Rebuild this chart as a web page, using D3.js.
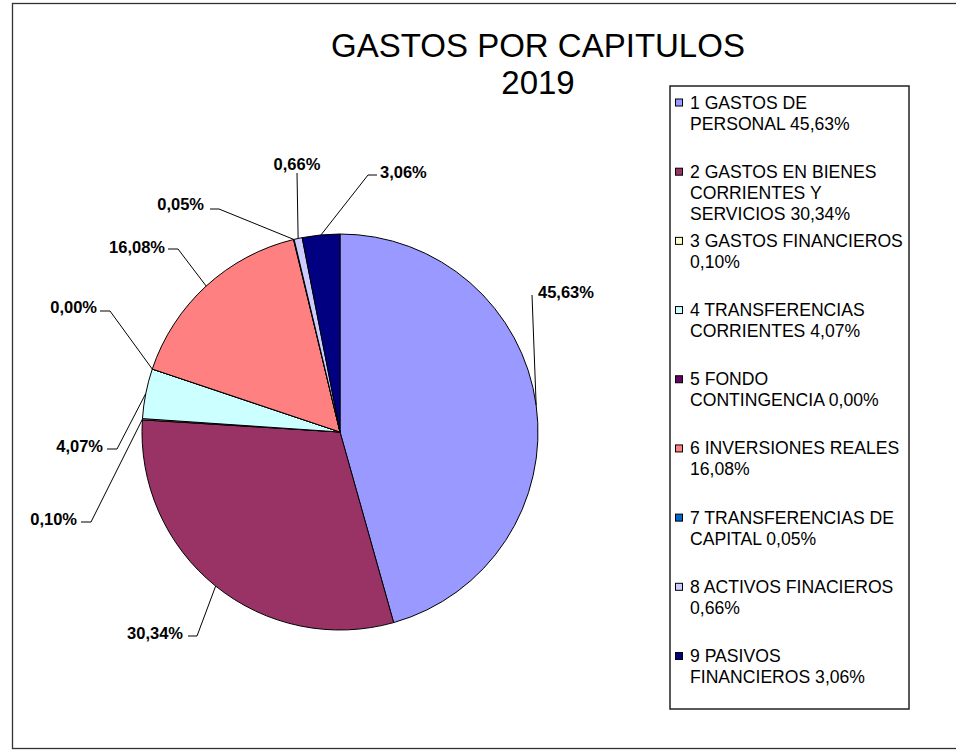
<!DOCTYPE html>
<html>
<head>
<meta charset="utf-8">
<script src="https://cdn.jsdelivr.net/npm/d3@7/dist/d3.min.js"></script>
<style>
  html, body { margin: 0; padding: 0; background: #fff; }
  svg { display: block; font-family: "Liberation Sans", Arial, sans-serif; }
</style>
</head>
<body>
<svg id="chart" width="956" height="750"></svg>
<script>
// ---- data ----
const titleLines = ["GASTOS POR CAPITULOS", "2019"];
const categories = [
  "1 GASTOS DE\nPERSONAL",
  "2 GASTOS EN BIENES\nCORRIENTES Y\nSERVICIOS",
  "3 GASTOS FINANCIEROS\n",
  "4 TRANSFERENCIAS\nCORRIENTES",
  "5 FONDO\nCONTINGENCIA",
  "6 INVERSIONES REALES\n",
  "7 TRANSFERENCIAS DE\nCAPITAL",
  "8 ACTIVOS FINACIEROS\n",
  "9 PASIVOS\nFINANCIEROS"
];
const values = [45.63, 30.34, 0.10, 4.07, 0.00, 16.08, 0.05, 0.66, 3.06];
const colors = ["#9999FF", "#993366", "#FFFFCC", "#CCFFFF", "#660066", "#FF8080", "#0066CC", "#CCCCFF", "#000080"];

// ---- layout (label placements, chosen manually as in the original) ----
const labelLayout = [
  { x: 538, y: 298, anchor: "start",  path: [[532, 295]] },
  { x: 183, y: 639, anchor: "end",    path: [[188, 636], [197, 636]] },
  { x: 77,  y: 525, anchor: "end",    path: [[81, 522], [91, 522]] },
  { x: 103, y: 452, anchor: "end",    path: [[107, 449], [117, 449]] },
  { x: 97,  y: 313, anchor: "end",    path: [[100, 311], [110, 311]] },
  { x: 165, y: 253, anchor: "end",    path: [[168, 249], [178, 249]] },
  { x: 204, y: 210, anchor: "end",    path: [[210, 209], [219, 209]] },
  { x: 297, y: 170, anchor: "middle", path: [[297, 173]] },
  { x: 380, y: 178, anchor: "start",  path: [[377, 175], [368, 175]] }
];

const fmt = v => v.toFixed(2).replace(".", ",") + "%";

const svg = d3.select("#chart");

// outer frame
svg.append("rect")
  .attr("x", 12.5).attr("y", 3.5).attr("width", 1000).attr("height", 745)
  .attr("fill", "none").attr("stroke", "#333").attr("stroke-width", 1.3);

// title
svg.append("g").selectAll("text").data(titleLines).join("text")
  .attr("x", 538).attr("y", (d, i) => 57 + i * 37)
  .attr("text-anchor", "middle")
  .attr("font-size", 33)
  .attr("fill", "#000")
  .text(d => d);

// pie
const cx = 340, cy = 432, r = 198;
const pie = d3.pie().sort(null).value(d => d).startAngle(0).endAngle(2 * Math.PI);
const arcs = pie(values);
const arc = d3.arc().innerRadius(0).outerRadius(r);
const edgeArc = d3.arc().innerRadius(r).outerRadius(r);

const g = svg.append("g").attr("transform", `translate(${cx},${cy})`);
g.selectAll("path.slice").data(arcs).join("path")
  .attr("class", "slice")
  .attr("d", arc)
  .attr("fill", (d, i) => colors[i])
  .attr("stroke", "#000")
  .attr("stroke-width", 1)
  .attr("stroke-linejoin", "round");

// leader lines
const line = d3.line();
svg.append("g").selectAll("path").data(arcs).join("path")
  .attr("d", (d, i) => {
    const c = edgeArc.centroid(d);
    const pts = labelLayout[i].path.concat([[cx + c[0], cy + c[1]]]);
    return line(pts);
  })
  .attr("fill", "none").attr("stroke", "#000").attr("stroke-width", 1);

// data labels
svg.append("g").selectAll("text").data(arcs).join("text")
  .attr("x", (d, i) => labelLayout[i].x)
  .attr("y", (d, i) => labelLayout[i].y)
  .attr("text-anchor", (d, i) => labelLayout[i].anchor)
  .attr("font-size", 16.5).attr("font-weight", "bold")
  .attr("fill", "#000")
  .text(d => fmt(d.value));

// legend
const lg = svg.append("g");
lg.append("rect")
  .attr("x", 670).attr("y", 86).attr("width", 239).attr("height", 623)
  .attr("fill", "#fff").attr("stroke", "#222").attr("stroke-width", 1.5);

const entryY = d3.scalePoint().domain(d3.range(categories.length)).range([102.5, 656]);
const items = lg.selectAll("g.item").data(categories).join("g")
  .attr("class", "item")
  .attr("transform", (d, i) => `translate(0,${entryY(i)})`);

items.append("rect")
  .attr("x", 675.5).attr("y", -3.5).attr("width", 7).attr("height", 7)
  .attr("fill", (d, i) => colors[i]).attr("stroke", "#000").attr("stroke-width", 1);

items.append("text")
  .attr("x", 690).attr("y", 6)
  .attr("font-size", 17.6).attr("fill", "#000")
  .selectAll("tspan")
  .data((d, i) => (d.endsWith("\n") ? d + fmt(values[i]) : d + " " + fmt(values[i])).split("\n"))
  .join("tspan")
  .attr("x", 690)
  .attr("dy", (d, j) => j === 0 ? 0 : 21)
  .text(d => d);
</script>
</body>
</html>
